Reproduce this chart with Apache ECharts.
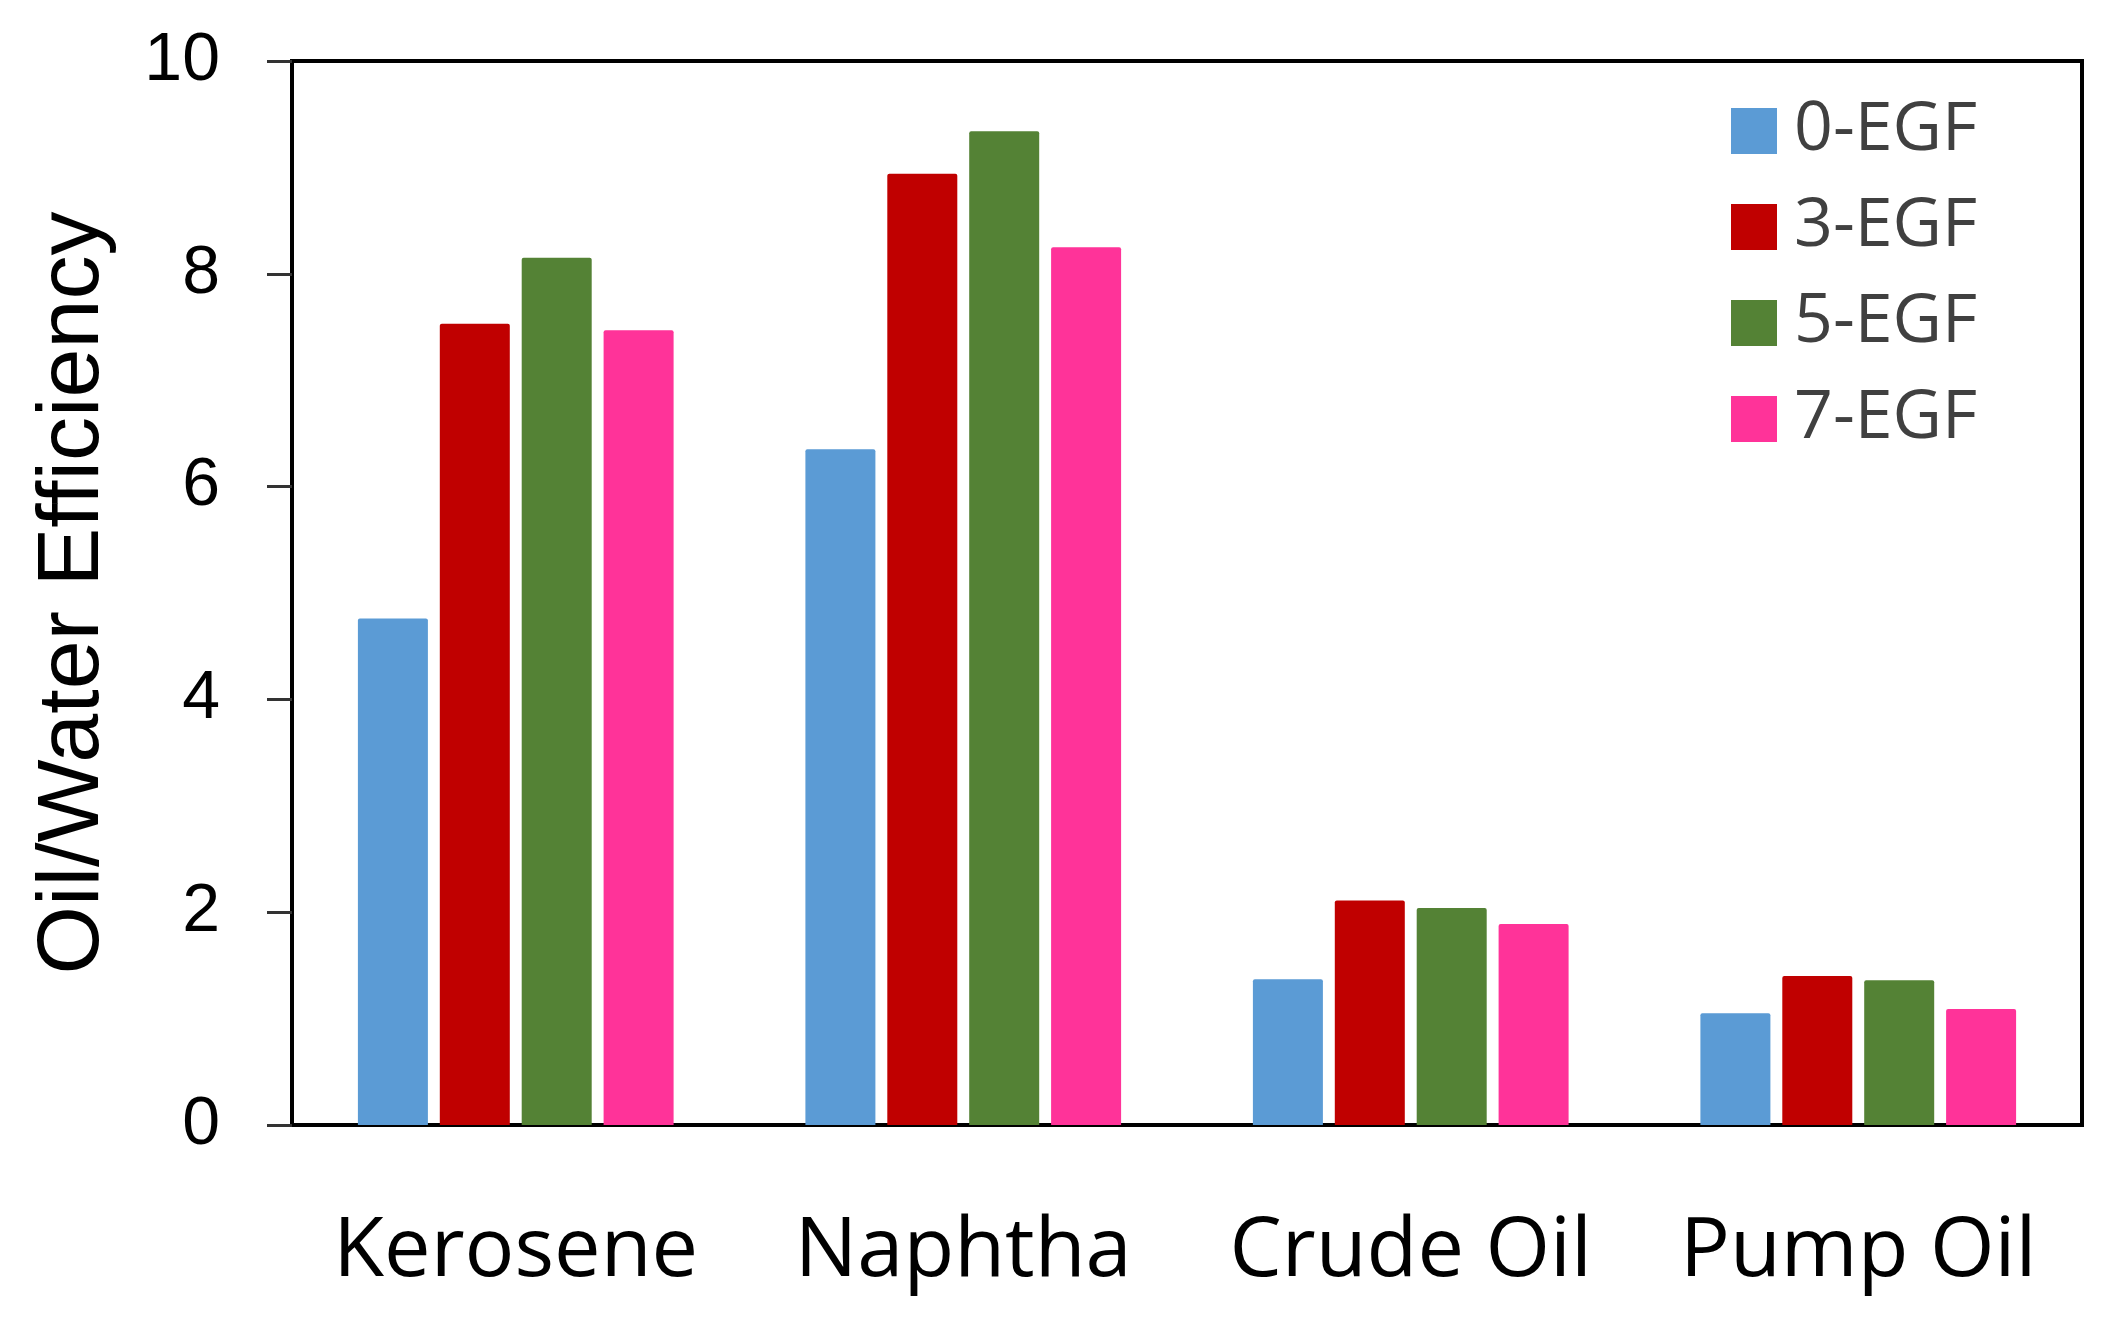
<!DOCTYPE html>
<html>
<head>
<meta charset="UTF-8">
<title>Oil/Water Efficiency</title>
<script src="https://cdn.jsdelivr.net/npm/echarts@6/dist/echarts.min.js"></script>
<style>
  html, body { margin: 0; padding: 0; background: #fff; }
</style>
</head>
<body>
<div id="main" style="width: 2116px;height:1319px;"></div>
<script type="text/javascript">
// data
var oils = ['Kerosene', 'Naphtha', 'Crude Oil', 'Pump Oil'];
var seriesNames = ['0-EGF', '3-EGF', '5-EGF', '7-EGF'];
var egf0 = [4.76, 6.35, 1.37, 1.05];
var egf3 = [7.53, 8.94, 2.11, 1.40];
var egf5 = [8.15, 9.34, 2.04, 1.36];
var egf7 = [7.47, 8.25, 1.89, 1.09];
var yTicks = [0, 2, 4, 6, 8, 10];

var colors = ['#5B9BD5', '#C00000', '#548235', '#FF3399'];
var allValues = [egf0, egf3, egf5, egf7];

var myChart = echarts.init(document.getElementById('main'));

var series = [];
for (var i = 0; i < seriesNames.length; i++) {
    series.push({
        name: seriesNames[i],
        type: 'bar',
        data: allValues[i],
        barWidth: 70,
        barGap: '17%',
        itemStyle: { color: colors[i], borderRadius: [2, 2, 0, 0] }
    });
}

var option = {
    animation: false,
    backgroundColor: '#fff',
    grid: {
        left: 292, top: 61, right: 34, bottom: 194,
        show: true, borderColor: '#000', borderWidth: 4, backgroundColor: 'transparent'
    },
    legend: {
        orient: 'vertical',
        left: 1726, top: 92,
        icon: 'rect',
        itemWidth: 46, itemHeight: 46,
        itemGap: 28,
        data: seriesNames,
        textStyle: {
            fontFamily: 'Open Sans', fontSize: 68, color: '#404040',
            lineHeight: 46, padding: [0, 0, 0, 12]
        }
    },
    xAxis: {
        type: 'category',
        data: oils,
        axisLine: { lineStyle: { color: '#000', width: 4 } },
        axisTick: { show: false },
        axisLabel: {
            interval: 0,
            fontFamily: 'Open Sans', fontSize: 83, color: '#000', margin: 86
        }
    },
    yAxis: {
        type: 'value',
        min: yTicks[0], max: yTicks[yTicks.length - 1], interval: 2,
        name: 'Oil/Water Efficiency',
        nameLocation: 'middle',
        nameGap: 174,
        nameTextStyle: { fontFamily: 'Liberation Sans', fontSize: 88, color: '#000' },
        axisLine: { show: true, lineStyle: { color: '#000', width: 4 } },
        axisTick: { show: true, inside: false, length: 25, lineStyle: { color: '#333', width: 3 } },
        splitLine: { show: false },
        axisLabel: {
            fontFamily: 'Liberation Sans', fontSize: 68, color: '#000', margin: 72
        }
    },
    series: series
};

myChart.setOption(option);
</script>
</body>
</html>
